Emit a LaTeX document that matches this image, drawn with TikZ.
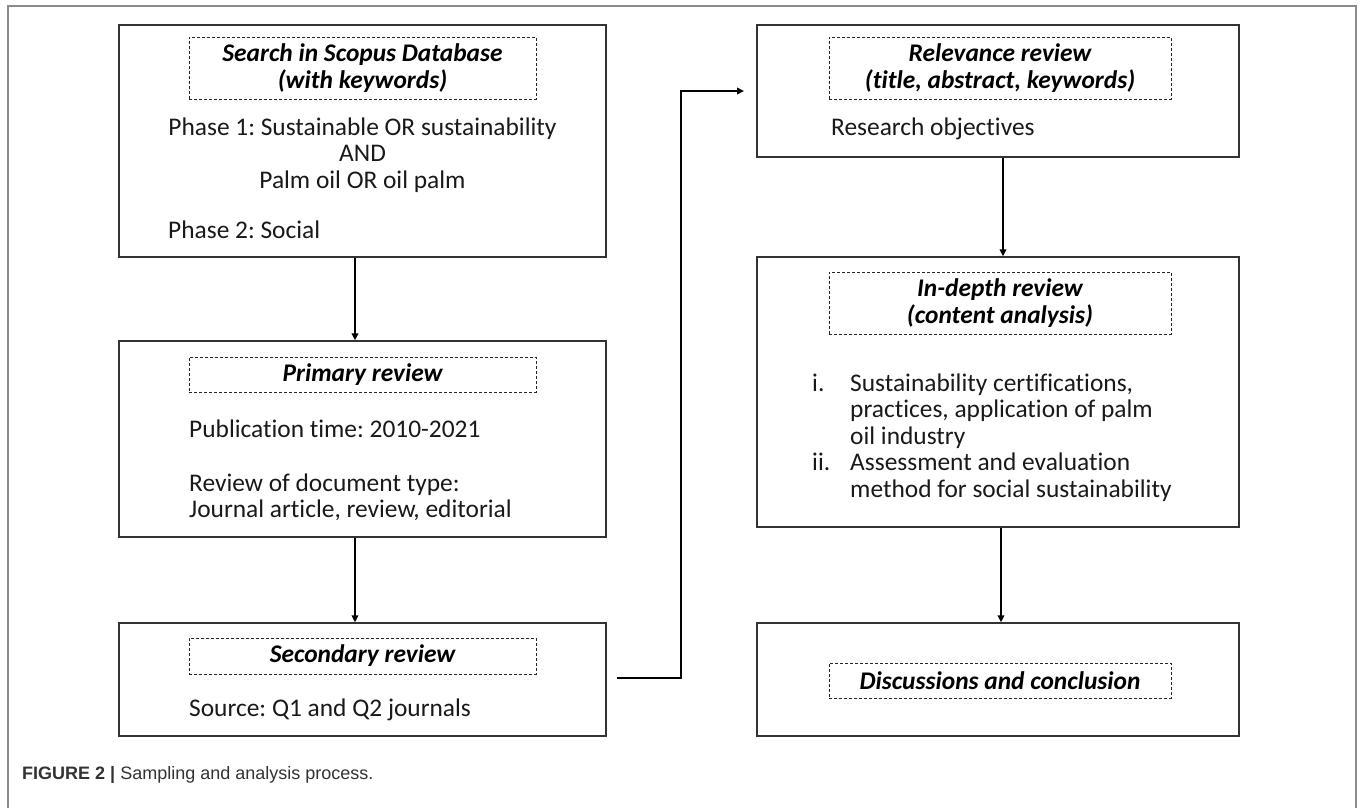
\documentclass[tikz,border=0pt]{standalone}
\usepackage{fontspec}
\setmainfont{Carlito}[Ligatures={NoCommon}]
\newfontfamily\capfont{Liberation Sans}
\usetikzlibrary{arrows.meta}
\newcommand\bxfont{\fontsize{25.4pt}{26.5pt}\selectfont}
\frenchspacing
\begin{document}
\begin{tikzpicture}[x=1pt,y=-1pt,
  outerbox/.style={draw=black!80,line width=1.3pt,inner sep=0pt},
  dashbox/.style={draw=black!85,line width=0.9pt,dash pattern=on 3pt off 2pt,inner sep=0pt,
    align=center,font=\bxfont\bfseries\itshape},
  txt/.style={inner sep=0pt,font=\bxfont,text height=16pt,text depth=0pt,text=black!90},
  arr/.style={-{Triangle[length=7pt,width=6.5pt]},line width=1.8pt,black},
  frame/.style={draw=black!45,line width=1.5pt}
]
\useasboundingbox (0,0) rectangle (1360,808);
\draw[frame] (8,808) -- (8,6) -- (1356,6) -- (1356,808);

% left column
\node[outerbox,minimum width=487pt,minimum height=232pt] (A) at (362.5,141) {};
\node[dashbox,minimum width=347pt,minimum height=62pt] (Ah) at (362.5,68) {Search in Scopus Database\\(with keywords)};
\node[txt] (A1) at (362.5,127) {Phase 1: Sustainable OR sustainability};
\node[txt] (A2) at (362.5,153) {AND};
\node[txt] (A3) at (362.5,180) {Palm oil OR oil palm};
\node[txt,anchor=west] (A4) at (168,230) {Phase 2: Social};

\node[outerbox,minimum width=487pt,minimum height=196pt] (B) at (362.5,439) {};
\node[dashbox,minimum width=347pt,minimum height=35pt] (Bh) at (362.5,374.5) {Primary review};
\node[txt,anchor=west] (B1) at (189,429) {Publication time: 2010-2021};
\node[txt,anchor=west] (B2) at (189,483) {Review of document type:};
\node[txt,anchor=west] (B3) at (189,509) {Journal article, review, editorial};

\node[outerbox,minimum width=487pt,minimum height=113pt] (C) at (362.5,679.5) {};
\node[dashbox,minimum width=347pt,minimum height=36pt] (Ch) at (362.5,656) {Secondary review};
\node[txt,anchor=west] (C1) at (189,708) {Source: Q1 and Q2 journals};

% right column
\node[outerbox,minimum width=482pt,minimum height=132pt] (D) at (998,91) {};
\node[dashbox,minimum width=342pt,minimum height=62pt] (Dh) at (1000,68) {Relevance review\\(title, abstract, keywords)};
\node[txt,anchor=west] (D1) at (831,127) {Research objectives};

\node[outerbox,minimum width=482pt,minimum height=270pt] (E) at (998,392) {};
\node[dashbox,minimum width=342pt,minimum height=62pt] (Eh) at (1000,303) {In-depth review\\(content analysis)};
\node[txt,anchor=west] (Ei) at (812,383) {i.};
\node[txt,anchor=west] (E1) at (850,383) {Sustainability certifications,};
\node[txt,anchor=west] (E2) at (850,409.5) {practices, application of palm};
\node[txt,anchor=west] (E3) at (850,436) {oil industry};
\node[txt,anchor=west] (Eii) at (812,462.5) {ii.};
\node[txt,anchor=west] (E4) at (850,462.5) {Assessment and evaluation};
\node[txt,anchor=west] (E5) at (850,489) {method for social sustainability};

\node[outerbox,minimum width=482pt,minimum height=113pt] (F) at (998,679.5) {};
\node[dashbox,minimum width=342pt,minimum height=35pt] (Fh) at (1000,680.5) {Discussions and conclusion};

% caption
\node[anchor=west,inner sep=0pt,font=\capfont\fontsize{18pt}{20pt}\selectfont,text height=13pt,text depth=0pt,text=black!80] (cap) at (22,773)
  {\textbf{FIGURE 2 |} Sampling and analysis process.};

% connectors
\coordinate (xab) at (355,0);
\coordinate (xde) at (1003,0);
\coordinate (xef) at (1001,0);
\draw[arr] (A.south -| xab) -- (B.north -| xab);
\draw[arr] (B.south -| xab) -- (C.north -| xab);
\draw[arr] (D.south -| xde) -- (E.north -| xde);
\draw[arr] (E.south -| xef) -- (F.north -| xef);
\coordinate (cs) at (617,678);
\coordinate (cm) at (681,91);
\coordinate (ce) at (744,91);
\draw[arr] (cs) -| (cm) -- (ce);
\end{tikzpicture}
\end{document}
